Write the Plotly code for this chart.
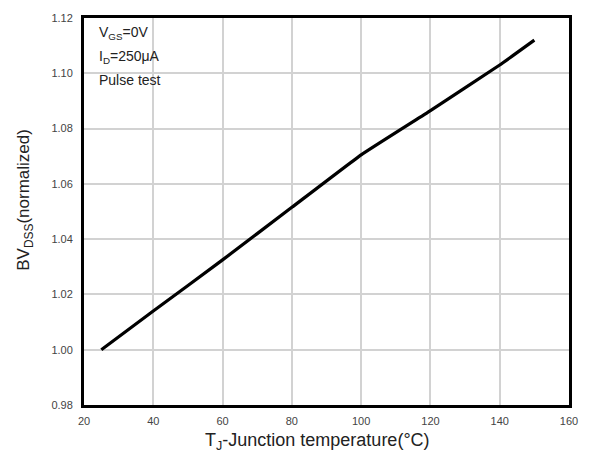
import plotly.graph_objects as go

# Normalized breakdown voltage vs. junction temperature
temperature_c = [25, 40, 60, 80, 100, 120, 140, 150]
bvdss_norm = [1.000, 1.014, 1.0325, 1.0515, 1.0705, 1.0865, 1.103, 1.112]

x_ticks = [20, 40, 60, 80, 100, 120, 140, 160]
y_ticks = [0.98, 1.00, 1.02, 1.04, 1.06, 1.08, 1.10, 1.12]
conditions = ["V<sub>GS</sub>=0V", "I<sub>D</sub>=250μA", "Pulse test"]

FONT = "Liberation Sans, Arial, sans-serif"

fig = go.Figure()
fig.add_trace(go.Scatter(
    x=temperature_c, y=bvdss_norm, mode="lines",
    line=dict(color="black", width=3.2, shape="spline", smoothing=0.3),
    showlegend=False, hoverinfo="skip",
))

axis_common = dict(
    showgrid=True, gridcolor="#d2d2d2", gridwidth=1.5,
    showline=True, linecolor="black", linewidth=3, mirror=True,
    ticks="", zeroline=False,
    tickfont=dict(family=FONT, size=11, color="#444444"),
)

fig.update_xaxes(range=[20, 160], tickvals=x_ticks,
                 ticktext=[str(v) for v in x_ticks],
                 ticklabelstandoff=4, **axis_common)
fig.update_yaxes(range=[0.98, 1.12], tickvals=y_ticks,
                 ticktext=[f"{v:.2f}" for v in y_ticks],
                 ticklabelstandoff=6, **axis_common)

# Axis titles
fig.add_annotation(
    text="T<sub>J</sub>-Junction temperature(°C)",
    xref="paper", yref="paper", x=0.482, y=-0.095,
    xanchor="center", yanchor="middle", showarrow=False,
    font=dict(family=FONT, size=18, color="#222222"),
)
fig.add_annotation(
    text="BV<sub>DSS</sub>(normalized)",
    xref="paper", yref="paper", x=-0.122, y=0.53,
    xanchor="center", yanchor="middle", textangle=-90, showarrow=False,
    font=dict(family=FONT, size=17, color="#222222"),
)

# Test conditions, top-left inside the plot
for i, line in enumerate(conditions):
    fig.add_annotation(
        text=line, xref="paper", yref="paper",
        x=0.026, y=(405 - 28 - 24 * i) / 392,
        xanchor="left", yanchor="middle", showarrow=False,
        font=dict(family=FONT, size=14, color="#222222"),
    )

fig.update_layout(
    width=590, height=457,
    margin=dict(l=84, r=12, t=13, b=52),
    paper_bgcolor="white", plot_bgcolor="white",
)

fig.write_html("out.html")
